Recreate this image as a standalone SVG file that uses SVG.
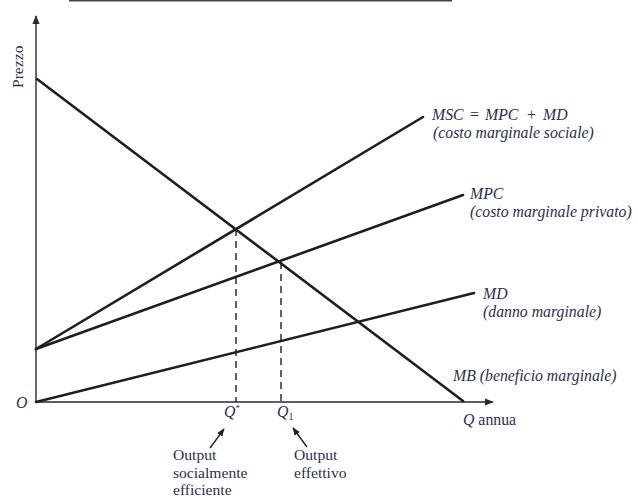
<svg xmlns="http://www.w3.org/2000/svg" width="638" height="499" viewBox="0 0 638 499">
<style>
.curve{stroke:#1e1e1e;stroke-width:2.6;fill:none;stroke-linecap:round}
.axis{stroke:#2a2a2a;stroke-width:1.4;fill:none}
.dash{stroke:#1e1e1e;stroke-width:1.4;stroke-dasharray:7,5;fill:none}
.lbl{font-family:"Liberation Serif",serif;font-style:italic;font-size:15.8px;fill:#27304f}
.up{font-style:normal}
.txt{font-family:"Liberation Serif",serif;font-size:15.6px;fill:#27304f}
.ptr{stroke:#222;stroke-width:1.4;fill:none}
</style>
<defs>
<marker id="ah" viewBox="0 0 10 10" refX="9" refY="5" markerWidth="9" markerHeight="9" markerUnits="userSpaceOnUse" orient="auto">
<path d="M0,1 L10,5 L0,9 Z" fill="#2a2a2a"/>
</marker>
<marker id="ahs" viewBox="0 0 10 10" refX="9" refY="5" markerWidth="8" markerHeight="8" markerUnits="userSpaceOnUse" orient="auto">
<path d="M0,1 L10,5 L0,9 Z" fill="#222"/>
</marker>
</defs>
<rect width="638" height="499" fill="#fff"/>
<line x1="69" y1="0.8" x2="452" y2="0.8" stroke="#444" stroke-width="1.6"/>
<g id="axes">
<line class="axis" x1="36" y1="402" x2="36" y2="16" marker-end="url(#ah)"/>
<line class="axis" x1="36" y1="402" x2="493" y2="402" marker-end="url(#ah)"/>
<text class="txt" transform="translate(23,88) rotate(-90)" font-size="13">Prezzo</text>
<text class="lbl" x="16" y="408">O</text>
<text class="lbl" x="463" y="425">Q<tspan class="up"> annua</tspan></text>
</g>
<g id="connectors">
<line class="curve" x1="37" y1="79" x2="463" y2="401"/>
<line class="curve" x1="36" y1="349" x2="423" y2="117"/>
<line class="curve" x1="36" y1="349" x2="463" y2="195"/>
<line class="curve" x1="36" y1="402" x2="474" y2="293"/>
<line class="dash" x1="236" y1="229" x2="236" y2="402"/>
<line class="dash" x1="281" y1="262" x2="281" y2="402"/>
<line class="ptr" x1="210" y1="448" x2="224" y2="429" marker-end="url(#ahs)"/>
<line class="ptr" x1="307" y1="447" x2="293" y2="428" marker-end="url(#ahs)"/>
</g>
<g id="msc">
<text class="lbl" x="432" y="120">MSC</text>
<text class="lbl up" x="470" y="120">=</text>
<text class="lbl" x="485" y="120">MPC</text>
<text class="lbl up" x="527" y="120">+</text>
<text class="lbl" x="543" y="120">MD</text>
<text class="lbl" x="433" y="138">(costo marginale sociale)</text></g>
<g id="mpc"><text class="lbl" x="470" y="199">MPC</text>
<text class="lbl" x="470" y="217">(costo marginale privato)</text></g>
<g id="md"><text class="lbl" x="483" y="299">MD</text>
<text class="lbl" x="483" y="317">(danno marginale)</text></g>
<g id="mb"><text class="lbl" x="453" y="381">MB (beneficio marginale)</text></g>
<g id="qstar"><text class="lbl" x="224" y="417">Q<tspan font-size="9" dy="-6" class="up">*</tspan></text>
<text class="txt" x="173" y="460">Output</text>
<text class="txt" x="173" y="477.5">socialmente</text>
<text class="txt" x="173" y="495">efficiente</text></g>
<g id="q1"><text class="lbl" x="277" y="417">Q<tspan font-size="10" dy="3" class="up">1</tspan></text>
<text class="txt" x="294" y="460">Output</text>
<text class="txt" x="294" y="477.5">effettivo</text></g>
</svg>
